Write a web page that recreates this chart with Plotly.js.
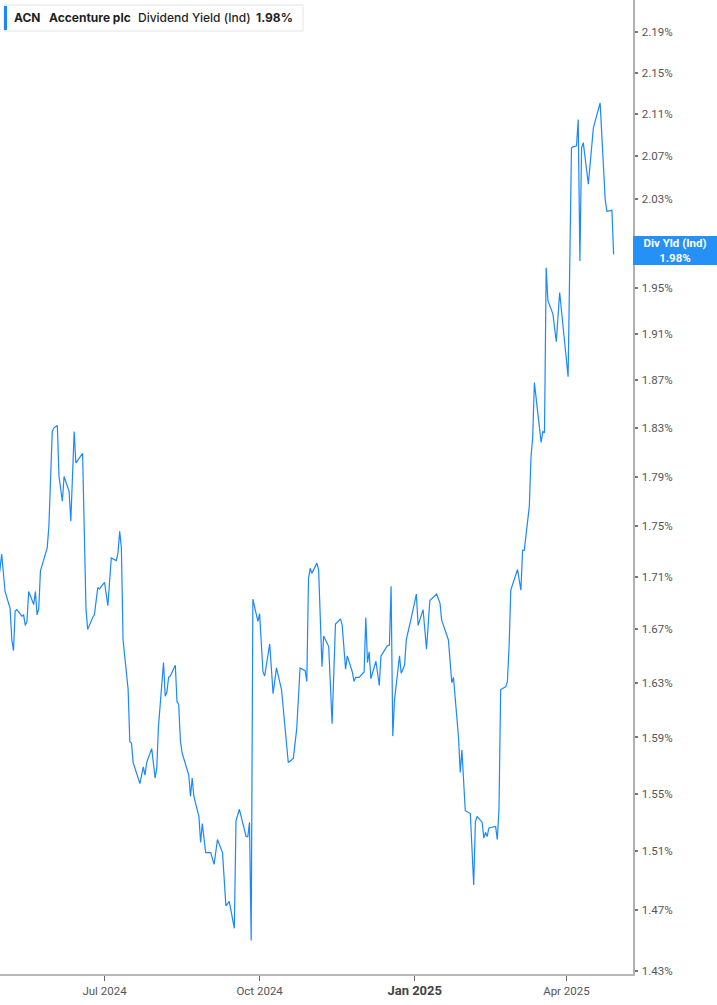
<!DOCTYPE html>
<html>
<head>
<meta charset="utf-8">
<script src="https://cdn.plot.ly/plotly-3.0.1.min.js"></script>
<style>
  html, body { margin: 0; padding: 0; background: #fff; }
  #chart { width: 717px; height: 1005px; }
</style>
</head>
<body>
<div id="chart"></div>
<script>
// ACN dividend yield (indicated)
const dates = [
  '2024-04-29','2024-04-30','2024-05-01','2024-05-03','2024-05-06','2024-05-07','2024-05-08','2024-05-09','2024-05-10',
  '2024-05-13','2024-05-14','2024-05-15','2024-05-16','2024-05-17','2024-05-20','2024-05-21','2024-05-22','2024-05-23',
  '2024-05-24','2024-05-28','2024-05-29','2024-05-31','2024-06-01','2024-06-03','2024-06-04','2024-06-06','2024-06-07',
  '2024-06-10','2024-06-11','2024-06-13','2024-06-14','2024-06-16','2024-06-18','2024-06-20','2024-06-21','2024-06-24',
  '2024-06-25','2024-06-27','2024-06-28','2024-07-01','2024-07-03','2024-07-05','2024-07-08','2024-07-09','2024-07-10',
  '2024-07-11','2024-07-12','2024-07-15','2024-07-16','2024-07-17','2024-07-18','2024-07-22','2024-07-24','2024-07-25',
  '2024-07-26','2024-07-29','2024-07-31','2024-08-01','2024-08-02','2024-08-05','2024-08-06','2024-08-07','2024-08-08',
  '2024-08-09','2024-08-12','2024-08-13','2024-08-14','2024-08-15','2024-08-16','2024-08-20','2024-08-21','2024-08-22',
  '2024-08-23','2024-08-26','2024-08-27','2024-08-28','2024-08-30','2024-09-02','2024-09-04','2024-09-06','2024-09-09',
  '2024-09-11','2024-09-13','2024-09-16','2024-09-17','2024-09-19','2024-09-23','2024-09-24','2024-09-25','2024-09-26',
  '2024-09-27','2024-09-30','2024-10-01','2024-10-03','2024-10-04','2024-10-07','2024-10-09','2024-10-11','2024-10-14',
  '2024-10-18','2024-10-21','2024-10-23','2024-10-25','2024-10-28','2024-10-29','2024-10-30','2024-10-31','2024-11-01',
  '2024-11-04','2024-11-05','2024-11-07','2024-11-08','2024-11-11','2024-11-13','2024-11-15','2024-11-18','2024-11-19',
  '2024-11-21','2024-11-22','2024-11-25','2024-11-26','2024-11-27','2024-11-29','2024-12-02','2024-12-03','2024-12-04',
  '2024-12-05','2024-12-06','2024-12-09','2024-12-11','2024-12-12','2024-12-15','2024-12-16','2024-12-17','2024-12-18',
  '2024-12-19','2024-12-20','2024-12-23','2024-12-24','2024-12-26','2024-12-27','2024-12-30','2025-01-02','2025-01-03',
  '2025-01-06','2025-01-08','2025-01-10','2025-01-14','2025-01-16','2025-01-17','2025-01-21','2025-01-23','2025-01-24',
  '2025-01-27','2025-01-28','2025-01-29','2025-01-31','2025-02-03','2025-02-05','2025-02-06','2025-02-07','2025-02-10',
  '2025-02-11','2025-02-12','2025-02-13','2025-02-14','2025-02-18','2025-02-19','2025-02-20','2025-02-21','2025-02-24',
  '2025-02-25','2025-02-26','2025-02-27','2025-03-03','2025-03-05','2025-03-06','2025-03-07','2025-03-10','2025-03-11',
  '2025-03-12','2025-03-13','2025-03-17','2025-03-18','2025-03-19','2025-03-20','2025-03-21','2025-03-24','2025-03-26',
  '2025-03-28','2025-04-02','2025-04-04','2025-04-05','2025-04-07','2025-04-08','2025-04-09','2025-04-10','2025-04-11',
  '2025-04-14','2025-04-17','2025-04-18','2025-04-21','2025-04-24','2025-04-25','2025-04-28','2025-04-29'
];

const yieldPct = [
  1.705, 1.716, 1.728, 1.699, 1.686, 1.662, 1.654, 1.684, 1.685,
  1.680, 1.681, 1.673, 1.676, 1.699, 1.689, 1.699, 1.681, 1.686,
  1.715, 1.733, 1.750, 1.827, 1.830, 1.832, 1.790, 1.770, 1.790,
  1.778, 1.754, 1.827, 1.801, 1.805, 1.809, 1.686, 1.670, 1.679,
  1.681, 1.702, 1.701, 1.706, 1.688, 1.725, 1.723, 1.729, 1.746,
  1.733, 1.662, 1.625, 1.587, 1.586, 1.572, 1.557, 1.569, 1.563,
  1.572, 1.582, 1.561, 1.568, 1.598, 1.645, 1.620, 1.623, 1.634,
  1.635, 1.643, 1.616, 1.614, 1.588, 1.579, 1.563, 1.548, 1.561,
  1.548, 1.534, 1.516, 1.529, 1.509, 1.509, 1.501, 1.518, 1.509,
  1.473, 1.476, 1.458, 1.531, 1.539, 1.520, 1.520, 1.530, 1.450,
  1.693, 1.676, 1.682, 1.638, 1.635, 1.659, 1.622, 1.641, 1.625,
  1.572, 1.575, 1.596, 1.641, 1.639, 1.631, 1.709, 1.717, 1.713,
  1.721, 1.716, 1.642, 1.665, 1.657, 1.600, 1.674, 1.678, 1.673,
  1.640, 1.650, 1.638, 1.631, 1.634, 1.634, 1.638, 1.679, 1.645,
  1.653, 1.633, 1.646, 1.628, 1.650, 1.656, 1.658, 1.658, 1.703,
  1.591, 1.617, 1.650, 1.637, 1.643, 1.662, 1.679, 1.697, 1.673,
  1.685, 1.655, 1.692, 1.697, 1.690, 1.677, 1.662, 1.630, 1.634,
  1.590, 1.565, 1.581, 1.538, 1.536, 1.487, 1.530, 1.534, 1.530,
  1.519, 1.523, 1.520, 1.526, 1.527, 1.518, 1.539, 1.625, 1.627,
  1.631, 1.657, 1.700, 1.716, 1.700, 1.731, 1.731, 1.766, 1.806,
  1.822, 1.868, 1.818, 1.827, 1.826, 1.968, 1.939, 1.927, 1.903,
  1.946, 1.873, 2.078, 2.079, 2.080, 2.105, 1.974, 2.078, 2.083,
  2.044, 2.097, 2.103, 2.121, 2.030, 2.019, 2.020, 1.980
];

// 1.99% sits behind the last-value tag in the reference, so it is left out
const yTicks = [1.43, 1.47, 1.51, 1.55, 1.59, 1.63, 1.67, 1.71, 1.75, 1.79,
                1.83, 1.87, 1.91, 1.95, 2.03, 2.07, 2.11, 2.15, 2.19];
const yTickText = yTicks.map(v => v.toFixed(2) + '%');

const xTickVals = ['2024-07-01', '2024-10-01', '2025-01-01', '2025-04-01'];
const xTickText = ['Jul 2024', 'Oct 2024',
  '<span style="font-size:13px;color:#444"><b>Jan 2025</b></span>', 'Apr 2025'];

const lastValue = yieldPct[yieldPct.length - 1];

// page geometry
const W = 717, H = 1005;
const M = { l: 0, r: 84, t: 0, b: 31 };
const plotW = W - M.l - M.r, plotH = H - M.t - M.b;
const px = x => x / plotW;
const py = y => 1 - y / plotH;

const lineBlue = '#1a88ff';

const data = [{
  x: dates,
  y: yieldPct,
  type: 'scatter',
  mode: 'lines',
  line: { color: lineBlue, width: 1.2 },
  hoverinfo: 'skip'
}];

const legendFont = (weight) => ({ family: 'Inter, Roboto, sans-serif', size: 12, color: '#1f1f1f', weight: weight });
const legendItem = (txt, x, weight) => ({
  text: txt, xref: 'paper', yref: 'paper', x: px(x), y: py(18),
  xanchor: 'left', yanchor: 'middle', showarrow: false, borderpad: 0,
  font: legendFont(weight)
});

const layout = {
  width: W, height: H,
  margin: M,
  paper_bgcolor: '#ffffff',
  plot_bgcolor: '#ffffff',
  showlegend: false,
  xaxis: {
    type: 'date',
    range: ['2024-04-30', '2025-05-10 12:00'],
    tickmode: 'array',
    tickvals: xTickVals,
    ticktext: xTickText,
    ticks: 'outside', ticklen: 5, tickwidth: 1, tickcolor: '#666',
    showline: true, linecolor: '#b8b8b8', linewidth: 2,
    showgrid: false, zeroline: false,
    tickfont: { family: 'Roboto, sans-serif', size: 11.5, color: '#555' }
  },
  yaxis: {
    type: 'log',
    side: 'right',
    range: [Math.log10(1.4281), Math.log10(2.2224)],
    tickmode: 'array',
    tickvals: yTicks,
    ticktext: yTickText,
    ticks: 'outside', ticklen: 3, tickwidth: 2, tickcolor: '#777',
    ticklabelstandoff: 2,
    showline: true, linecolor: '#b0b0b0', linewidth: 1.5,
    showgrid: false, zeroline: false,
    tickfont: { family: 'Roboto, sans-serif', size: 11.5, color: '#555' }
  },
  shapes: [
    { type: 'rect', xref: 'paper', yref: 'paper',
      x0: px(4), x1: px(303), y0: py(31), y1: py(5),
      fillcolor: '#ffffff', line: { color: '#e4e4e4', width: 1 } },
    { type: 'rect', xref: 'paper', yref: 'paper',
      x0: px(4), x1: px(7), y0: py(30), y1: py(6),
      fillcolor: lineBlue, line: { width: 0 } }
  ],
  annotations: [
    legendItem('ACN', 13, 700),
    legendItem('Accenture plc', 48, 700),
    legendItem('Dividend Yield (Ind)', 137, 500),
    legendItem(lastValue.toFixed(2) + '%', 255, 700),
    {
      text: '<b>Div Yld (Ind)</b><br><b>' + lastValue.toFixed(2) + '%</b>',
      xref: 'paper', yref: 'y', x: 1, y: Math.log10(lastValue),
      xanchor: 'left', yanchor: 'middle', showarrow: false, yshift: 4,
      width: 84, height: 29, borderpad: 0, borderwidth: 0,
      bgcolor: '#2590f5', align: 'center',
      font: { family: 'Roboto, sans-serif', size: 11.5, color: '#ffffff' }
    }
  ]
};

Plotly.newPlot('chart', data, layout, { displayModeBar: false, staticPlot: true });
</script>
</body>
</html>
